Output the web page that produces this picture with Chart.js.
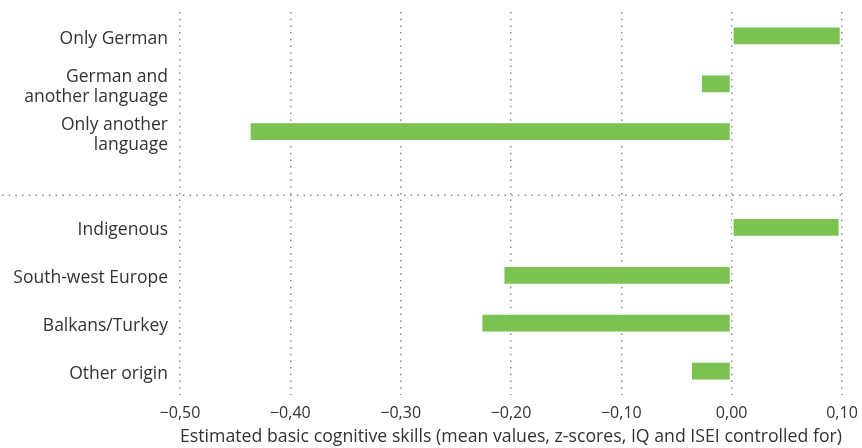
<!DOCTYPE html>
<html>
<head>
<meta charset="utf-8">
<script src="https://cdn.jsdelivr.net/npm/chart.js@4"></script>
<style>
  html, body { margin: 0; padding: 0; background: #fff; }
</style>
</head>
<body>
<canvas id="myChart" width="862" height="448"></canvas>
<script>
// categories (empty slot = gap between the two groups)
const categories = [
    'Only German',
    ['German and', 'another language'],
    ['Only another', 'language'],
    '',
    'Indigenous',
    'South-west Europe',
    'Balkans/Turkey',
    'Other origin'
];
const skills = [0.099, -0.028, -0.437, null, 0.098, -0.207, -0.227, -0.037];
const xTicks = [-0.5, -0.4, -0.3, -0.2, -0.1, 0.0, 0.1];
const axisTitle = 'Estimated basic cognitive skills (mean values, z-scores, IQ and ISEI controlled for)';

const fontFamily = "'Open Sans', sans-serif";
const textColor = '#333333';
const dotColor = '#8a8a8a';

function fmt(v) {
    const s = Math.abs(v).toFixed(2).replace('.', ',');
    return v < -0.0001 ? '\u2212' + s : s;
}

// dotted line between the two groups
const separator = {
    id: 'separator',
    beforeDatasetsDraw(chart) {
        const ctx = chart.ctx;
        const y = chart.scales.y.getPixelForValue(3.33);
        ctx.save();
        ctx.strokeStyle = dotColor;
        ctx.lineWidth = 1.5;
        ctx.setLineDash([1.5, 5.2]);
        ctx.beginPath();
        ctx.moveTo(2, y);
        ctx.lineTo(chart.chartArea.right, y);
        ctx.stroke();
        ctx.restore();
    }
};

const config = {
    type: 'bar',
    data: {
        labels: categories,
        datasets: [{
            data: skills,
            backgroundColor: '#7cc250',
            borderColor: '#ffffff',
            borderWidth: 1.5,
            borderSkipped: false,
            barThickness: 19
        }]
    },
    options: {
        indexAxis: 'y',
        responsive: false,
        animation: false,
        events: [],
        layout: { padding: { top: 12, right: 20, left: 0, bottom: 0 } },
        plugins: {
            legend: { display: false },
            tooltip: { enabled: false }
        },
        scales: {
            x: {
                min: -0.5,
                max: 0.1,
                afterBuildTicks(scale) {
                    scale.ticks = xTicks.map(v => ({ value: v }));
                },
                afterFit(scale) {
                    scale.height = 53;
                    scale.paddingLeft = 0;
                    scale.paddingRight = 0;
                },
                border: { display: false, dash: [1.5, 5.2] },
                grid: {
                    color: dotColor,
                    lineWidth: 1.5,
                    drawTicks: false
                },
                ticks: {
                    padding: 9,
                    color: textColor,
                    font: { family: fontFamily, size: 16 },
                    maxRotation: 0,
                    callback: v => fmt(v)
                },
                title: {
                    display: true,
                    text: axisTitle,
                    color: textColor,
                    font: { family: fontFamily, size: 18.3 },
                    padding: { top: 0, bottom: 0 }
                }
            },
            y: {
                afterFit(scale) {
                    scale.width = 180;
                    scale.paddingTop = 0;
                    scale.paddingBottom = 0;
                },
                border: { display: false },
                grid: { display: false, drawTicks: false },
                ticks: {
                    padding: 12,
                    labelOffset: 3,
                    color: textColor,
                    font: { family: fontFamily, size: 17.5, lineHeight: 1.15 }
                }
            }
        }
    },
    plugins: [separator]
};

const chart = new Chart(document.getElementById('myChart'), config);
</script>
</body>
</html>
